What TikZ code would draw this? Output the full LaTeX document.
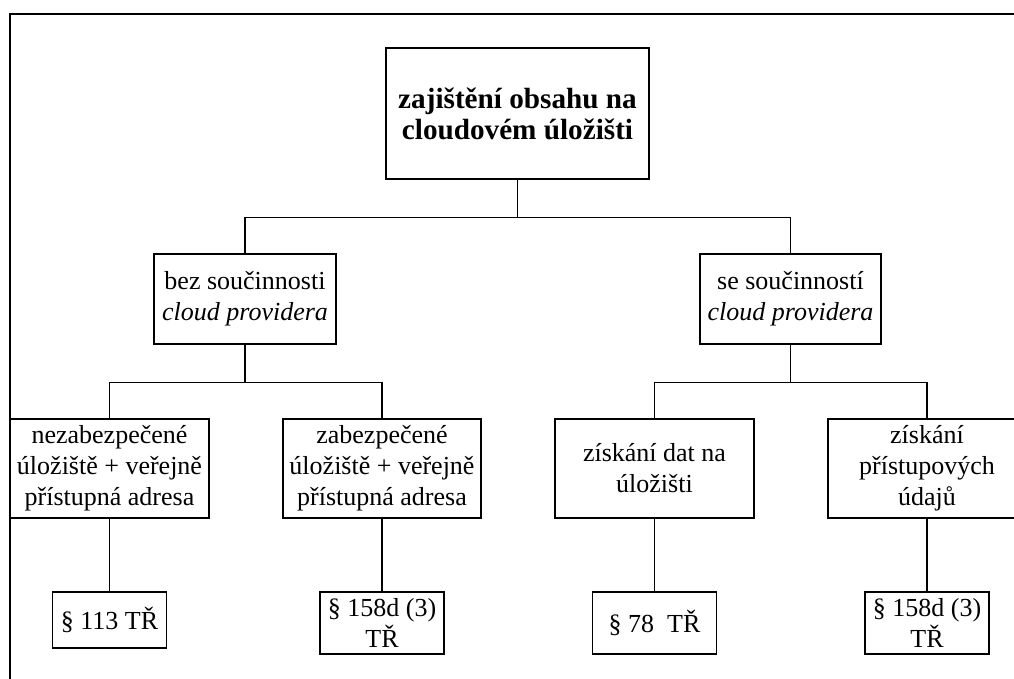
\documentclass[tikz,border=0pt]{standalone}
\usepackage{fontspec}
\setmainfont{Liberation Serif}
\usepackage{tikz}

\begin{document}
\begin{tikzpicture}[x=0.5pt,y=-0.5pt,
        box/.style={draw,line width=0.65pt,inner sep=0pt,align=center,
            font=\fontsize{13}{15.5}\selectfont},
        conn/.style={line width=0.65pt}]
        \useasboundingbox (0,0) rectangle (1014,679);
        \clip (0,0) rectangle (1014,679);
        \draw [line width=1pt] (10,14) rectangle (1040,700);

        % node sizes are in pt, i.e. half of the picture units
        \node [box,minimum width=131.5pt,minimum height=65.5pt,
            font=\fontsize{14.6}{15.5}\selectfont\bfseries] (top) at (517.5,113.5)
            {zajištění obsahu na\\cloudovém úložišti};

        \node [box,minimum width=91pt,minimum height=45pt] (bez) at (245,299)
            {bez součinnosti\\\textit{cloud providera}};
        \node [box,minimum width=90.5pt,minimum height=45pt] (se) at (790.5,299)
            {se součinností\\\textit{cloud providera}};

        \node [box,minimum width=99.5pt,minimum height=49.5pt] (nezab) at (109.5,468.5)
            {nezabezpečené\\úložiště + veřejně\\přístupná adresa};
        \node [box,minimum width=99pt,minimum height=49.5pt] (zab) at (382,468.5)
            {zabezpečené\\úložiště + veřejně\\přístupná adresa};
        \node [box,minimum width=99.5pt,minimum height=49.5pt] (data) at (654.5,468.5)
            {získání dat na\\úložišti};
        \node [box,minimum width=99pt,minimum height=49.5pt] (udaje) at (927,468.5)
            {získání\\přístupových\\údajů};

        \node [box,minimum width=57pt,minimum height=28pt] (p113) at (109.5,620)
            {§ 113 TŘ};
        \node [box,minimum width=62pt,minimum height=31pt] (p158a) at (382,623)
            {§ 158d (3)\\TŘ};
        \node [box,minimum width=62pt,minimum height=31pt] (p78) at (654.5,623)
            {§ 78\ \ TŘ};
        \node [box,minimum width=62pt,minimum height=31pt] (p158b) at (927,623)
            {§ 158d (3)\\TŘ};

        \draw [conn] (top.south) -- ++(0,38) -| (bez.north);
        \draw [conn] (top.south) -- ++(0,38) -| (se.north);
        \draw [conn] (bez.south) -- ++(0,38) -| (nezab.north);
        \draw [conn] (bez.south) -- ++(0,38) -| (zab.north);
        \draw [conn] (se.south) -- ++(0,38) -| (data.north);
        \draw [conn] (se.south) -- ++(0,38) -| (udaje.north);
        \draw [conn] (nezab.south) -- (p113.north);
        \draw [conn] (zab.south) -- (p158a.north);
        \draw [conn] (data.south) -- (p78.north);
        \draw [conn] (udaje.south) -- (p158b.north);
    \end{tikzpicture}
\end{document}
